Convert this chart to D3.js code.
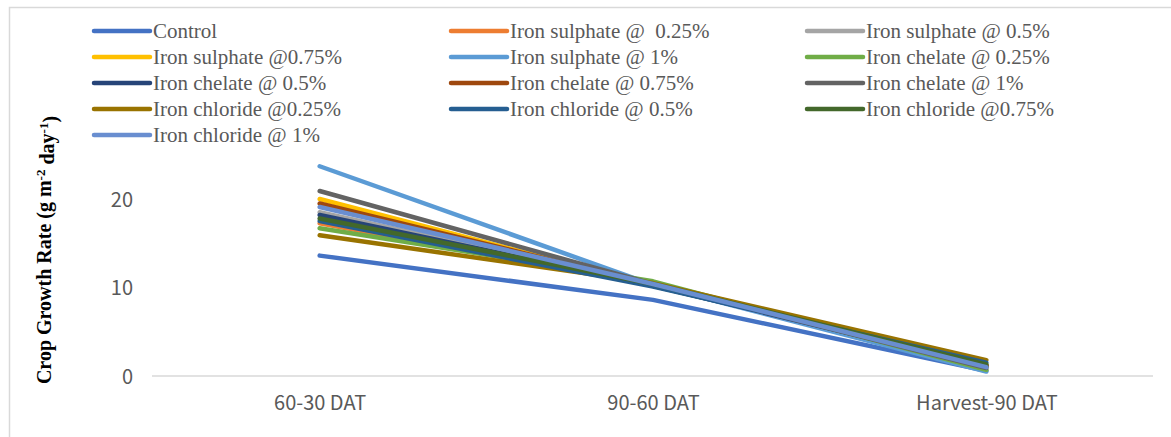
<!DOCTYPE html>
<html>
<head>
<meta charset="utf-8">
<script src="https://cdn.jsdelivr.net/npm/d3@7"></script>
<style>
  html, body { margin: 0; padding: 0; background: #fff; }
  svg { display: block; }
</style>
</head>
<body>
<svg id="chart" width="1171" height="437"></svg>
<script>
// Growth stages on the x axis
const stages = ["60-30 DAT", "90-60 DAT", "Harvest-90 DAT"];

// Treatment names, in legend order
const treatments = [
  "Control",
  "Iron sulphate @  0.25%",
  "Iron sulphate @ 0.5%",
  "Iron sulphate @0.75%",
  "Iron sulphate @ 1%",
  "Iron chelate @ 0.25%",
  "Iron chelate @ 0.5%",
  "Iron chelate @ 0.75%",
  "Iron chelate @ 1%",
  "Iron chloride @0.25%",
  "Iron chloride @ 0.5%",
  "Iron chloride @0.75%",
  "Iron chloride @ 1%"
];

// Crop growth rate (g m-2 day-1) per treatment, one value per stage
const control          = [13.6, 8.6, 0.6];
const sulphate025      = [17.25, 10.3, 1.1];
const sulphate05       = [18.5, 10.3, 1.0];
const sulphate075      = [20.0, 10.2, 1.2];
const sulphate1        = [23.7, 10.3, 0.5];
const chelate025       = [16.7, 10.7, 0.7];
const chelate05        = [18.2, 10.2, 1.1];
const chelate075       = [19.5, 10.3, 1.2];
const chelate1         = [20.9, 10.4, 0.9];
const chloride025      = [15.9, 10.5, 1.8];
const chloride05       = [17.5, 10.1, 1.5];
const chloride075      = [17.8, 10.4, 1.3];
const chloride1        = [19.1, 10.4, 1.0];

const seriesValues = [
  control, sulphate025, sulphate05, sulphate075, sulphate1,
  chelate025, chelate05, chelate075, chelate1,
  chloride025, chloride05, chloride075, chloride1
];

const colors = [
  "#4472C4", "#ED7D31", "#A5A5A5", "#FFC000", "#5B9BD5",
  "#70AD47", "#264478", "#9E480E", "#636363", "#997300",
  "#255E91", "#43682B", "#698ED0"
];

const yTicks = [0, 10, 20];
const yTitle = "Crop Growth Rate (g m";

const svg = d3.select("#chart");

// Outer chart frame
svg.append("rect")
  .attr("x", 9.5).attr("y", 7.5)
  .attr("width", 1200).attr("height", 460)
  .attr("fill", "none").attr("stroke", "#d9d9d9").attr("stroke-width", 1.5);

const plot = { left: 153, right: 1153, zeroY: 376 };

const x = d3.scalePoint()
  .domain(stages)
  .range([plot.left, plot.right])
  .padding(0.5);

const y = d3.scaleLinear()
  .domain([0, 10])
  .range([plot.zeroY, plot.zeroY - 88.5]);

// Baseline
svg.append("line")
  .attr("x1", plot.left - 1).attr("x2", plot.right)
  .attr("y1", y(0)).attr("y2", y(0))
  .attr("stroke", "#d9d9d9").attr("stroke-width", 1.5);

// Y axis (labels only)
const yAxis = d3.axisLeft(y).tickValues(yTicks).tickSize(0).tickPadding(0);
const gy = svg.append("g")
  .attr("transform", "translate(133,0)")
  .call(yAxis);
gy.select(".domain").remove();
gy.selectAll("text")
  .attr("fill", "#595959")
  .style("font-family", "'Noto Sans CJK SC', 'Noto Sans', sans-serif")
  .style("font-size", "20px")
  .attr("dy", "0.35em");

// X axis (labels only)
const xAxis = d3.axisBottom(x).tickSize(0).tickPadding(0);
const gx = svg.append("g")
  .attr("transform", "translate(0,396)")
  .call(xAxis);
gx.select(".domain").remove();
gx.selectAll("text")
  .attr("fill", "#595959")
  .style("font-family", "'Noto Sans CJK SC', 'Noto Sans', sans-serif")
  .style("font-size", "20px")
  .attr("dy", "0.71em");

// Y axis title with superscripts
const title = svg.append("text")
  .attr("transform", "translate(51,250) rotate(-90)")
  .attr("text-anchor", "middle")
  .style("font-family", "'Liberation Serif', 'Times New Roman', serif")
  .style("font-weight", "bold")
  .style("font-size", "20px")
  .attr("fill", "#000");
title.append("tspan").text(yTitle);
title.append("tspan").text("-2").attr("dy", "-0.45em").style("font-size", "13px");
title.append("tspan").text(" day").attr("dy", "0.45em");
title.append("tspan").text("-1").attr("dy", "-0.45em").style("font-size", "13px");
title.append("tspan").text(")").attr("dy", "0.45em");

// Series lines
const line = d3.line()
  .x((d, i) => x(stages[i]))
  .y(d => y(d));

svg.append("g")
  .selectAll("path")
  .data(seriesValues)
  .join("path")
  .attr("d", d => line(d))
  .attr("fill", "none")
  .attr("stroke", (d, i) => colors[i])
  .attr("stroke-width", 4.5)
  .attr("stroke-linecap", "round")
  .attr("stroke-linejoin", "round");

// Legend: three columns, filled row by row
const legendCols = [94, 451, 807];
const legendRow0 = 31, legendRowStep = 26, sampleLen = 56;
const legend = svg.append("g")
  .selectAll("g")
  .data(treatments)
  .join("g")
  .attr("transform", (d, i) =>
    `translate(${legendCols[i % 3]},${legendRow0 + Math.floor(i / 3) * legendRowStep})`);

legend.append("line")
  .attr("x1", 0).attr("x2", sampleLen)
  .attr("y1", 0).attr("y2", 0)
  .attr("stroke", (d, i) => colors[i])
  .attr("stroke-width", 4.5)
  .attr("stroke-linecap", "round");

legend.append("text")
  .attr("x", sampleLen + 3)
  .attr("y", 0)
  .attr("dy", "0.33em")
  .attr("fill", "#595959")
  .style("font-family", "'Liberation Serif', 'Times New Roman', serif")
  .style("font-size", "21px")
  .style("white-space", "pre")
  .text(d => d);
</script>
</body>
</html>
